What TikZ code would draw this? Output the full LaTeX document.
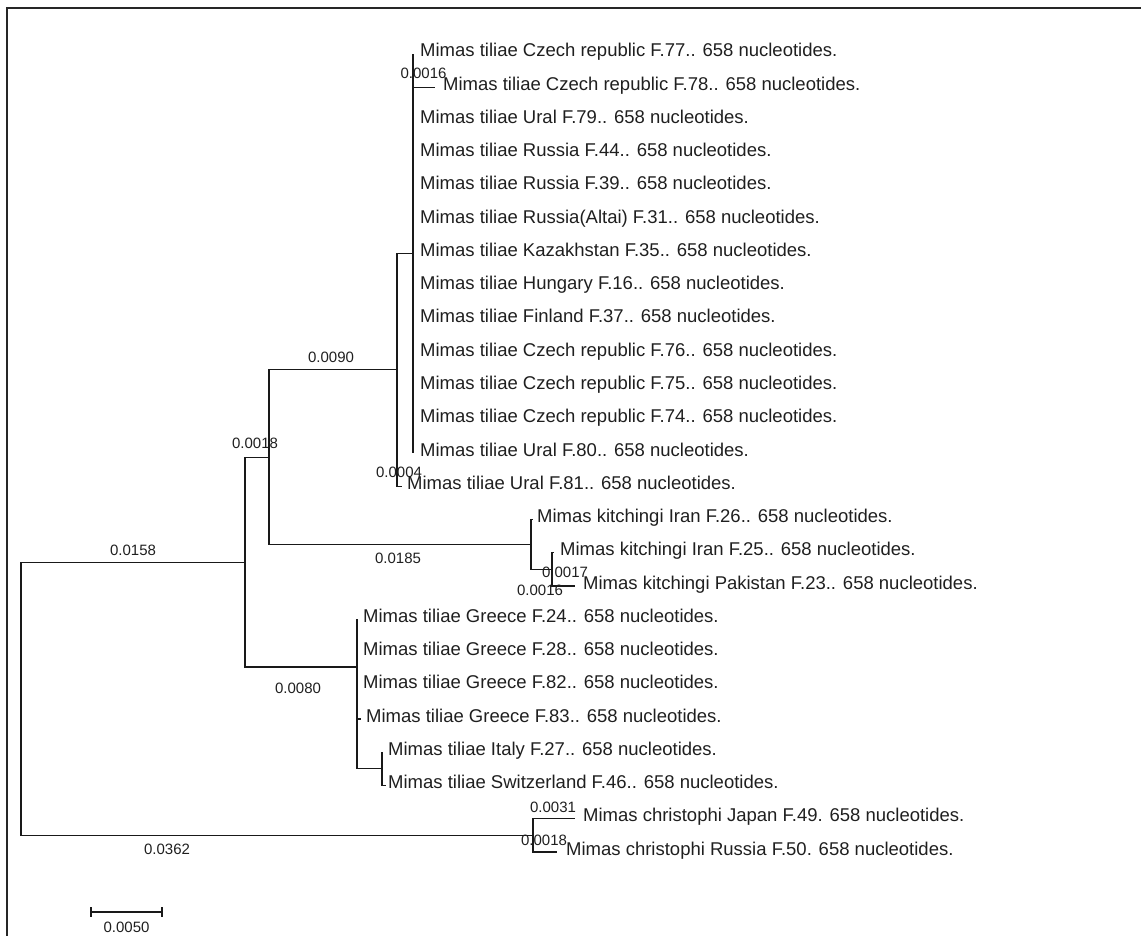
\documentclass[tikz,border=0pt]{standalone}
\usepackage{fontspec}
\setmainfont{Liberation Sans}
\tikzset{
  br/.style={draw=black!90, line width=1.1pt},
  leaf/.style={anchor=base west, inner sep=0pt, text=black!88, font=\fontsize{18.5}{20}\selectfont},
  blen/.style={anchor=center, inner sep=0pt, text=black!88, font=\fontsize{15}{17}\selectfont},
  frame/.style={draw=black!85, line width=1.5pt}
}
\begin{document}
\begin{tikzpicture}[x=1pt,y=-1pt]
\useasboundingbox (0,0) rectangle (1141,936);
\draw[frame] (7,936) -- (7,8) -- (1141,8);

% internal nodes
\coordinate (B) at (413,253.5);
\coordinate (A) at (397,369.9);
\coordinate (K2) at (552,569.4);
\coordinate (K) at (531,544.4);
\coordinate (C) at (269,457.2);
\coordinate (I) at (382,768.9);
\coordinate (G) at (357,667);
\coordinate (R1) at (245,562.1);
\coordinate (X) at (533,835.4);
\coordinate (Root) at (21,698.7);

% leaf tips
\coordinate (t1) at (413,54);
\coordinate (t2) at (435,87.25);
\coordinate (t3) at (413,120.5);
\coordinate (t4) at (413,153.75);
\coordinate (t5) at (413,187);
\coordinate (t6) at (413,220.25);
\coordinate (t7) at (413,253.5);
\coordinate (t8) at (413,286.75);
\coordinate (t9) at (413,320);
\coordinate (t10) at (413,353.25);
\coordinate (t11) at (413,386.5);
\coordinate (t12) at (413,419.75);
\coordinate (t13) at (413,453);
\coordinate (t14) at (402,486.25);
\coordinate (t15) at (533,519.5);
\coordinate (t16) at (554,552.75);
\coordinate (t17) at (575,586);
\coordinate (t18) at (357,619.25);
\coordinate (t19) at (357,652.5);
\coordinate (t20) at (357,685.75);
\coordinate (t21) at (361,719);
\coordinate (t22) at (383,752.25);
\coordinate (t23) at (386,785.5);
\coordinate (t24) at (575,818.75);
\coordinate (t25) at (557,852);

% leaf labels
\node[leaf] (n1) at (420,57) {Mimas tiliae Czech republic F.77.. 658 nucleotides.};
\node[leaf] (n2) at (443,90.25) {Mimas tiliae Czech republic F.78.. 658 nucleotides.};
\node[leaf] (n3) at (420,123.5) {Mimas tiliae Ural F.79.. 658 nucleotides.};
\node[leaf] (n4) at (420,156.75) {Mimas tiliae Russia F.44.. 658 nucleotides.};
\node[leaf] (n5) at (420,190) {Mimas tiliae Russia F.39.. 658 nucleotides.};
\node[leaf] (n6) at (420,223.25) {Mimas tiliae Russia(Altai) F.31.. 658 nucleotides.};
\node[leaf] (n7) at (420,256.5) {Mimas tiliae Kazakhstan F.35.. 658 nucleotides.};
\node[leaf] (n8) at (420,289.75) {Mimas tiliae Hungary F.16.. 658 nucleotides.};
\node[leaf] (n9) at (420,323) {Mimas tiliae Finland F.37.. 658 nucleotides.};
\node[leaf] (n10) at (420,356.25) {Mimas tiliae Czech republic F.76.. 658 nucleotides.};
\node[leaf] (n11) at (420,389.5) {Mimas tiliae Czech republic F.75.. 658 nucleotides.};
\node[leaf] (n12) at (420,422.75) {Mimas tiliae Czech republic F.74.. 658 nucleotides.};
\node[leaf] (n13) at (420,456) {Mimas tiliae Ural F.80.. 658 nucleotides.};
\node[leaf] (n14) at (407,489.25) {Mimas tiliae Ural F.81.. 658 nucleotides.};
\node[leaf] (n15) at (537,522.5) {Mimas kitchingi Iran F.26.. 658 nucleotides.};
\node[leaf] (n16) at (560,555.75) {Mimas kitchingi Iran F.25.. 658 nucleotides.};
\node[leaf] (n17) at (583,589) {Mimas kitchingi Pakistan F.23.. 658 nucleotides.};
\node[leaf] (n18) at (363,622.25) {Mimas tiliae Greece F.24.. 658 nucleotides.};
\node[leaf] (n19) at (363,655.5) {Mimas tiliae Greece F.28.. 658 nucleotides.};
\node[leaf] (n20) at (363,688.75) {Mimas tiliae Greece F.82.. 658 nucleotides.};
\node[leaf] (n21) at (366,722) {Mimas tiliae Greece F.83.. 658 nucleotides.};
\node[leaf] (n22) at (388,755.25) {Mimas tiliae Italy F.27.. 658 nucleotides.};
\node[leaf] (n23) at (388,788.5) {Mimas tiliae Switzerland F.46.. 658 nucleotides.};
\node[leaf] (n24) at (583,821.75) {Mimas christophi Japan F.49. 658 nucleotides.};
\node[leaf] (n25) at (566,855) {Mimas christophi Russia F.50. 658 nucleotides.};

% branches
\foreach \i in {1,...,13} { \draw[br] (B) |- (t\i); }
\draw[br] (A) |- (B);
\draw[br] (A) |- (t14);
\draw[br] (C) |- (A);
\draw[br] (C) |- (K);
\draw[br] (K) |- (t15);
\draw[br] (K) |- (K2);
\draw[br] (K2) |- (t16);
\draw[br] (K2) |- (t17);
\draw[br] (R1) |- (C);
\draw[br] (R1) |- (G);
\foreach \i in {18,...,21} { \draw[br] (G) |- (t\i); }
\draw[br] (G) |- (I);
\draw[br] (I) |- (t22);
\draw[br] (I) |- (t23);
\draw[br] (Root) |- (R1);
\draw[br] (Root) |- (X);
\draw[br] (X) |- (t24);
\draw[br] (X) |- (t25);

% branch lengths
\node[blen] (l1) at (423.5,73) {0.0016};
\node[blen] (l2) at (399,472) {0.0004};
\node[blen] (l3) at (331,357) {0.0090};
\node[blen] (l4) at (255,443) {0.0018};
\node[blen] (l5) at (133,550) {0.0158};
\node[blen] (l6) at (398,558) {0.0185};
\node[blen] (l7) at (565,572) {0.0017};
\node[blen] (l8) at (540,590) {0.0016};
\node[blen] (l9) at (298,688) {0.0080};
\node[blen] (l10) at (553,807) {0.0031};
\node[blen] (l11) at (544,840) {0.0018};
\node[blen] (l12) at (167,849) {0.0362};

% scale bar
\coordinate (s1) at (91,912);
\coordinate (s2) at (162,912);
\draw[br] (s1) -- (s2);
\draw[br] ([yshift=5pt]s1) -- ([yshift=-5pt]s1);
\draw[br] ([yshift=5pt]s2) -- ([yshift=-5pt]s2);
\node[blen] (sl) at (126.5,927) {0.0050};
\end{tikzpicture}
\end{document}
